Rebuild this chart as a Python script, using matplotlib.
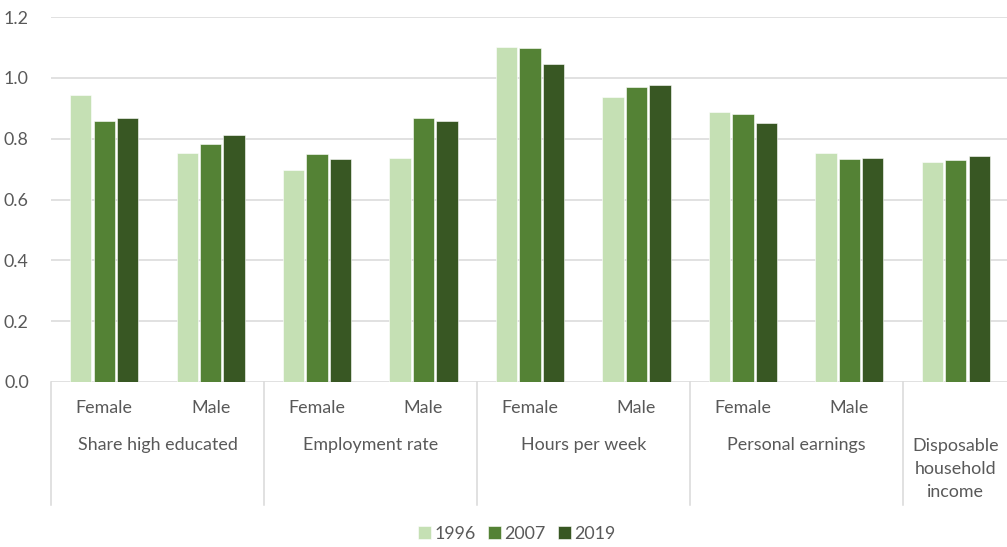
import matplotlib
matplotlib.use("Agg")
import matplotlib.pyplot as plt
import numpy as np

plt.rcParams["font.family"] = ["Lato", "DejaVu Sans"]

# データ
sub_labels = ["Female", "Male", "Female", "Male", "Female", "Male", "Female", "Male", ""]
group_labels = ["Share high educated", "Employment rate", "Hours per week",
                "Personal earnings", "Disposable\nhousehold\nincome"]
group_sizes = [2, 2, 2, 2, 1]
years = ["1996", "2007", "2019"]
v1996 = [0.944, 0.753, 0.698, 0.735, 1.102, 0.938, 0.887, 0.753, 0.722]
v2007 = [0.859, 0.783, 0.750, 0.867, 1.099, 0.969, 0.880, 0.732, 0.729]
v2019 = [0.867, 0.811, 0.732, 0.859, 1.045, 0.976, 0.852, 0.735, 0.743]
colors = ["#C5E0B4", "#548235", "#385723"]

W, H = 1007, 547
FS = 12.9
fig = plt.figure(figsize=(W / 100, H / 100), dpi=100)
ax = fig.add_axes([51 / W, 165 / H, 958 / W, 365 / H])

x = np.arange(len(sub_labels))
bw = 0.2
step = 0.22
for i, (vals, col, lab) in enumerate(zip([v1996, v2007, v2019], colors, years)):
    ax.bar(x + (i - 1) * step, vals, width=bw, color=col, label=lab,
           edgecolor="white", linewidth=0.4, zorder=3)

ax.set_xlim(-0.5, len(sub_labels) - 0.5)
ax.set_ylim(0, 1.2)
ax.set_yticks(np.arange(0, 1.21, 0.2))
ax.set_yticklabels([f"{t:.1f}" for t in np.arange(0, 1.21, 0.2)])
ax.grid(axis="y", color="#D9D9D9", linewidth=1.1, zorder=0)
for s in ax.spines.values():
    s.set_visible(False)
ax.tick_params(axis="y", length=0, pad=16, labelsize=FS, labelcolor="#595959")
ax.tick_params(axis="x", length=0, labelbottom=False)

# 多段のx軸ラベル
tr = ax.get_xaxis_transform()
text_kw = dict(transform=tr, ha="center", va="center", fontsize=FS, color="#595959")
for xi, lab in zip(x, sub_labels):
    if lab:
        ax.text(xi, -26 / 365, lab, **text_kw)

start = 0
for g, n in zip(group_labels, group_sizes):
    center = start + (n - 1) / 2
    if "\n" in g:
        ax.text(center, -87 / 365, g, linespacing=1.55, **text_kw)
    else:
        ax.text(center, -63 / 365, g, **text_kw)
    ax.plot([start - 0.5, start - 0.5], [0, -123 / 365], transform=tr,
            color="#D9D9D9", linewidth=1.1, clip_on=False)
    start += n

ax.legend(loc="center", bbox_to_anchor=(0.486, -152 / 365), ncol=3, frameon=False,
          fontsize=FS, labelcolor="#595959", handlelength=0.75, handleheight=0.75,
          handletextpad=0.15, columnspacing=0.7)

plt.savefig("out.png", dpi=100)
plt.close()
